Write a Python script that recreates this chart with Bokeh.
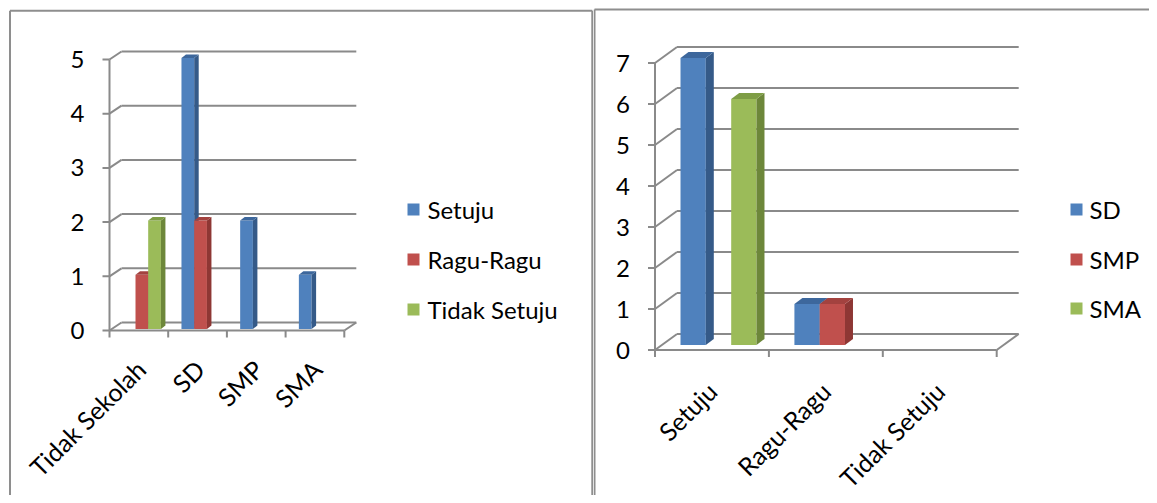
import math
from bokeh.plotting import figure
from bokeh.layouts import row
from bokeh.models import Range1d
from bokeh.core.properties import value
from bokeh.embed import file_html
from bokeh.resources import INLINE

# ---------------- data ----------------
left_categories = ["Tidak Sekolah", "SD", "SMP", "SMA"]
left_series = ["Setuju", "Ragu-Ragu", "Tidak Setuju"]
left_setuju = [0, 5, 2, 1]
left_ragu = [1, 2, 0, 0]
left_tidak_setuju = [2, 0, 0, 0]
left_ticks = [0, 1, 2, 3, 4, 5]

right_categories = ["Setuju", "Ragu-Ragu", "Tidak Setuju"]
right_series = ["SD", "SMP", "SMA"]
right_sd = [7, 1, 0]
right_smp = [0, 1, 0]
right_sma = [6, 0, 0]
right_ticks = [0, 1, 2, 3, 4, 5, 6, 7]

FRONT = ["#4F81BD", "#C0504D", "#9BBB59"]
SIDE = ["#355A88", "#8E3734", "#6D873A"]
TOP = ["#3D679C", "#A3423F", "#7E9D45"]
GRID = "#8a8a8a"
BORDER = "#8e8e8e"
FONT = value("Lato")
FS = "24px"
FS_X = "25px"

PAGE_TOP, PAGE_BOTTOM = 0, 495


def make_panel(categories, series, values, ticks, g):
    W = g["canvas_w"]
    H = PAGE_BOTTOM - PAGE_TOP
    ox, oy, cx, uy = g["ox"], g["oy"], g["cx"], g["uy"]

    def X(px):
        return (px - ox) / cx

    def Y(py):
        return (oy - py) / uy

    p = figure(width=W, height=H, output_backend="svg", toolbar_location=None,
               x_axis_location=None, y_axis_location=None,
               x_range=Range1d(X(g["canvas_x"]), X(g["canvas_x"] + W)),
               y_range=Range1d(Y(PAGE_BOTTOM), Y(PAGE_TOP)),
               min_border=0, outline_line_color=None)
    p.grid.visible = False
    p.background_fill_color = "white"
    p.border_fill_color = "white"

    ncat = len(categories)
    vmax = ticks[-1]
    bdx, bdy = g["back"][0] / cx, g["back"][1] / uy

    # panel border (left, top, right)
    bx0, by = X(g["border_left"]), Y(g["border_top"])
    bx1 = X(g["border_right"]) if g["border_right"] is not None else X(g["canvas_x"] + W + 20)
    ybot = Y(PAGE_BOTTOM + 20)
    segs = [(bx0, ybot, bx0, by), (bx0, by, bx1, by)]
    if g["border_right"] is not None:
        segs.append((bx1, by, bx1, ybot))
    p.segment([s[0] for s in segs], [s[1] for s in segs], [s[2] for s in segs], [s[3] for s in segs],
              line_color=BORDER, line_width=2)

    # back wall gridlines
    p.segment([bdx] * len(ticks), [t + bdy for t in ticks], [ncat + bdx] * len(ticks),
              [t + bdy for t in ticks], line_color=GRID, line_width=2)
    # side wall diagonals
    p.segment([0] * len(ticks), ticks, [bdx] * len(ticks), [t + bdy for t in ticks],
              line_color=GRID, line_width=2)

    # bars
    sdx, sdy = g["side"][0] / cx, g["side"][1] / uy
    lift = g["lift"] / uy
    bw = g["bar_w"]
    for c in range(ncat):
        for i in range(len(series)):
            v = values[i][c]
            if v == 0:
                continue
            x0 = c + g["bar_off"][i]
            x1 = x0 + bw
            yb, yt = lift, v + lift
            p.patch([x0, x1, x1, x0], [yb, yb, yt, yt], fill_color=FRONT[i], line_color=None)
            p.patch([x1, x1 + sdx, x1 + sdx, x1], [yb, yb + sdy, yt + sdy, yt],
                    fill_color=SIDE[i], line_color=None)
            p.patch([x0, x1, x1 + sdx, x0 + sdx], [yt, yt, yt + sdy, yt + sdy],
                    fill_color=TOP[i], line_color=None)

    # front axis, floor
    tl = g["tick_len"]
    p.segment([0], [0], [0], [vmax], line_color=GRID, line_width=2)
    p.segment([0] * len(ticks), ticks, [-tl / cx] * len(ticks), ticks, line_color=GRID, line_width=2)
    p.segment([0, ncat], [0, 0], [ncat, ncat + bdx], [0, bdy], line_color=GRID, line_width=2)
    cats_edges = list(range(ncat + 1))
    p.segment(cats_edges, [0] * len(cats_edges), cats_edges, [-tl / uy] * len(cats_edges),
              line_color=GRID, line_width=2)

    # y tick labels
    p.text(x=[X(ox + g["ylab_dx"])] * len(ticks), y=ticks, text=[str(t) for t in ticks],
           text_font=FONT, text_font_size=FS, text_color="black",
           text_align="right", text_baseline="middle")

    # x category labels (rotated)
    p.text(x=[c + 0.5 + g["xlab_dx"] / cx for c in range(ncat)], y=[Y(g["xlab_y"])] * ncat,
           text=categories, angle=math.pi / 4,
           text_font=FONT, text_font_size=FS_X, text_color="black",
           text_align="right", text_baseline="middle")

    # legend
    ly = [Y(y) for y in g["leg_y"]]
    p.scatter(x=[X(g["leg_sq_x"])] * len(series), y=ly, marker="square", size=g["leg_sq"],
              fill_color=FRONT, line_color=None)
    p.text(x=[X(g["leg_tx"])] * len(series), y=ly, text=series,
           text_font=FONT, text_font_size=FS, text_color="black",
           text_align="left", text_baseline="middle")
    return p


left_geom = dict(canvas_x=0, canvas_w=593, ox=109, oy=330, cx=58.7, uy=54.2,
                 back=(12, 8), side=(4.5, 3.5), lift=1.5,
                 bar_off=[0.226, 0.443, 0.659], bar_w=0.217, tick_len=7,
                 ylab_dx=-25, xlab_dx=2, xlab_y=364,
                 leg_sq_x=413, leg_tx=427, leg_y=[209, 259, 309], leg_sq=12,
                 border_left=9.5, border_top=10.3, border_right=591.8)

right_geom = dict(canvas_x=593, canvas_w=556, ox=654.5, oy=349.5, cx=113.9, uy=41.0,
                  back=(22, 16), side=(8, 6), lift=5,
                  bar_off=[0.224, 0.446, 0.669], bar_w=0.222, tick_len=7,
                  ylab_dx=-25, xlab_dx=0, xlab_y=386,
                  leg_sq_x=1076, leg_tx=1089, leg_y=[209, 259, 308], leg_sq=12,
                  border_left=594, border_top=9, border_right=None)

p1 = make_panel(left_categories, left_series,
                [left_setuju, left_ragu, left_tidak_setuju], left_ticks, left_geom)
p2 = make_panel(right_categories, right_series,
                [right_sd, right_smp, right_sma], right_ticks, right_geom)

layout = row(p1, p2, spacing=0)
open("out.html", "w").write(file_html(layout, INLINE))
